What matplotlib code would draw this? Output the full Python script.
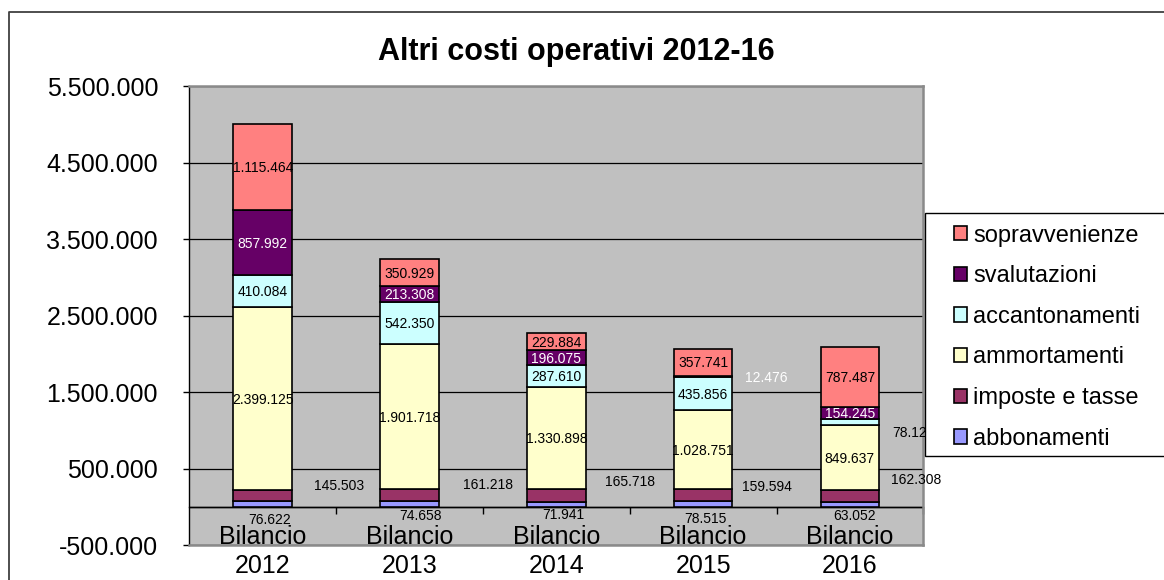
import matplotlib
matplotlib.use('Agg')
import matplotlib.pyplot as plt
from matplotlib.patches import Rectangle, Patch
from matplotlib.lines import Line2D
import numpy as np

plt.rcParams['font.family'] = ['Liberation Sans', 'DejaVu Sans']

# ---------------- data ----------------
years = ['2012', '2013', '2014', '2015', '2016']
category_prefix = 'Bilancio'
series_names = ['abbonamenti', 'imposte e tasse', 'ammortamenti',
                'accantonamenti', 'svalutazioni', 'sopravvenienze']
abbonamenti = [76622, 74658, 71941, 78515, 63052]
imposte_e_tasse = [145503, 161218, 165718, 159594, 162308]
ammortamenti = [2399125, 1901718, 1330898, 1028751, 849637]
accantonamenti = [410084, 542350, 287610, 435856, 78120]
svalutazioni = [857992, 213308, 196075, 12476, 154245]
sopravvenienze = [1115464, 350929, 229884, 357741, 787487]
series_values = [abbonamenti, imposte_e_tasse, ammortamenti,
                 accantonamenti, svalutazioni, sopravvenienze]
y_ticks = [-500000, 500000, 1500000, 2500000, 3500000, 4500000, 5500000]
title = 'Altri costi operativi 2012-16'

# ---------------- styles ----------------
colors = ['#9999FF', '#993366', '#FFFFCC', '#CCFFFF', '#660066', '#FF8080']
label_colors = ['black', 'black', 'black', 'black', 'white', 'black']

# label placements moved off-bar (series index, year index) -> (dx in categories, y in data units)
moved = {
    (0, 0): (0.048, -172000), (0, 1): (0.072, -112000), (0, 2): (0.046, -100000),
    (0, 3): (0.013, -160000), (0, 4): (0.034, -122000),
    (1, 0): (0.518, 270000), (1, 1): (0.535, 283000), (1, 2): (0.502, 322000),
    (1, 3): (0.433, 261000), (1, 4): (0.450, 349000),
    (4, 3): (0.428, 1683000),
    (3, 4): (0.430, 962000),
}

W, H = 1164, 580
fig = plt.figure(figsize=(W / 100, H / 100), dpi=100)
fig.patch.set_facecolor('white')

ax_left, ax_right, ax_top, ax_bottom = 189.3, 923.3, 86.4, 545.3
ax = fig.add_axes([ax_left / W, 1 - ax_bottom / H,
                   (ax_right - ax_left) / W, (ax_bottom - ax_top) / H])
ax.set_facecolor('#C0C0C0')

def fmt(v):
    return f"{int(round(v)):,}".replace(',', '.')

x = np.arange(len(years))
bottom = np.zeros(len(years))
for si, vals in enumerate(series_values):
    vals = np.array(vals, dtype=float)
    ax.bar(x, vals, width=0.4, bottom=bottom, color=colors[si],
           edgecolor='black', linewidth=1.2, zorder=3)
    for yi in range(len(years)):
        if (si, yi) in moved:
            dx, ty = moved[(si, yi)]
            tx = x[yi] + dx
            col = 'white' if si == 4 else 'black'
        else:
            tx = x[yi]
            ty = bottom[yi] + vals[yi] / 2 - 17000
            col = label_colors[si]
        ax.text(tx, ty, fmt(vals[yi]), ha='center', va='center',
                fontsize=10, color=col, zorder=5, clip_on=False)
    bottom = bottom + vals

ax.set_xlim(-0.5, len(years) - 0.5)
ax.set_ylim(y_ticks[0], y_ticks[-1])
ax.set_yticks(y_ticks)
ax.set_yticklabels([fmt(v) for v in y_ticks])
ax.yaxis.grid(True, color='black', linewidth=0.9)
ax.set_axisbelow(True)
ax.axhline(0, color='black', linewidth=1.0, zorder=2)
ax.tick_params(axis='y', direction='out', length=4.5, width=1, pad=18,
               labelsize=18, colors='black')
ax.set_xticks([])

for s in ['top', 'right', 'bottom']:
    ax.spines[s].set_color('#8a8a8a')
    ax.spines[s].set_linewidth(1.8)
ax.spines['left'].set_color('black')
ax.spines['left'].set_linewidth(1.0)

# category axis at y = 0
zero_frac = (0 - y_ticks[0]) / (y_ticks[-1] - y_ticks[0])
sec = ax.secondary_xaxis(zero_frac)
sec.set_xticks(x + 0.5)
sec.set_xticklabels([])
sec.tick_params(direction='out', length=5, width=1, colors='black')
sec.spines['bottom'].set_color('black')
sec.spines['bottom'].set_linewidth(1.0)

# category labels
for i, yr in enumerate(years):
    ax.text(x[i], 0.002, category_prefix, transform=ax.get_xaxis_transform(),
            ha='center', va='baseline', fontsize=18, clip_on=False)
    ax.text(x[i], -0.0604, yr, transform=ax.get_xaxis_transform(),
            ha='center', va='baseline', fontsize=18, clip_on=False)

# title
fig.text(576 / W, 1 - 52 / H, title, ha='center', va='center',
         fontsize=22, fontweight='bold')

# legend frame + legend
leg_rect = Rectangle((925 / W, 1 - 456 / H), (W + 20 - 925) / W, (456 - 212.7) / H,
                     transform=fig.transFigure, facecolor='white',
                     edgecolor='black', linewidth=1.0, zorder=4, clip_on=False)
fig.add_artist(leg_rect)
handles = [Patch(facecolor=colors[i], edgecolor='black', linewidth=1.2)
           for i in reversed(range(len(series_names)))]
labels = [series_names[i] for i in reversed(range(len(series_names)))]
leg = fig.legend(handles, labels, loc='upper left',
                 bbox_to_anchor=(954 / W, 1 - 224.5 / H), frameon=False,
                 fontsize=17, handlelength=0.55, handleheight=0.55,
                 handletextpad=0.25, labelspacing=0.79, borderpad=0,
                 borderaxespad=0)
leg.set_zorder(6)

# outer chart border
fig.add_artist(Line2D([9 / W, 9 / W, 1.02], [-0.02, 1 - 12 / H, 1 - 12 / H],
                      transform=fig.transFigure, color='#404040', linewidth=1.3))

fig.savefig('out.png', dpi=100)
